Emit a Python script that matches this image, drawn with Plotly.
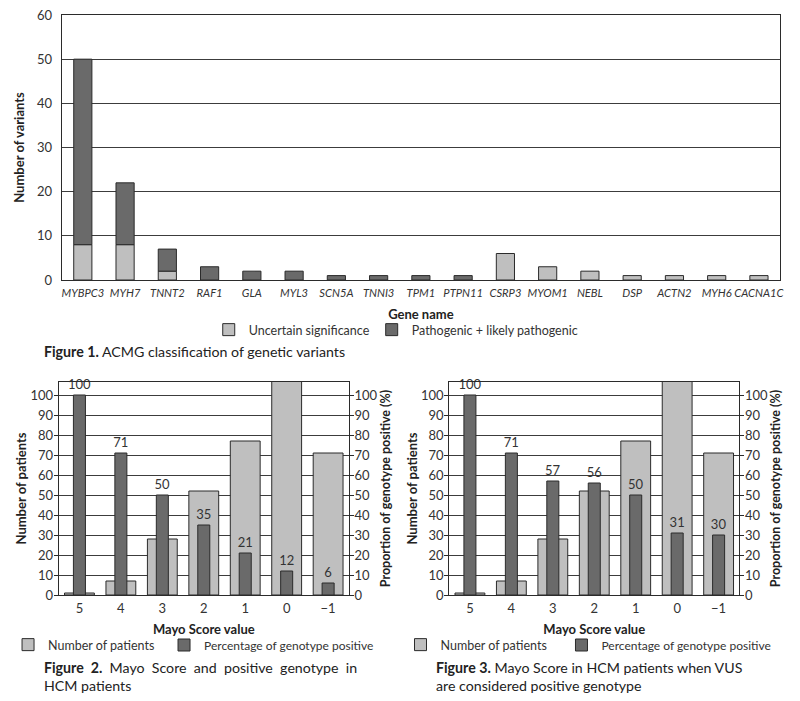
import plotly.graph_objects as go

# ---------------- Data ----------------
genes = ["MYBPC3", "MYH7", "TNNT2", "RAF1", "GLA", "MYL3", "SCN5A", "TNNI3", "TPM1",
         "PTPN11", "CSRP3", "MYOM1", "NEBL", "DSP", "ACTN2", "MYH6", "CACNA1C"]
vus_counts = [8, 8, 2, 0, 0, 0, 0, 0, 0, 0, 6, 3, 2, 1, 1, 1, 1]
path_counts = [42, 14, 5, 3, 2, 2, 1, 1, 1, 1, 0, 0, 0, 0, 0, 0, 0]

mayo_scores = ["5", "4", "3", "2", "1", "0", "\u22121"]
patients_fig2 = [1, 7, 28, 52, 77, 110, 71]
pct_pos_fig2 = [100, 71, 50, 35, 21, 12, 6]
patients_fig3 = [1, 7, 28, 52, 77, 110, 71]
pct_pos_fig3 = [100, 71, 57, 56, 50, 31, 30]

LIGHT = "#bfbfbf"
DARK = "#6a6a6a"
EDGE = "#2b2b2b"
GRID = "#3c3c3c"
FONT = "Lato"
TXT = "#333333"

# page has an 8px body margin: figure covers page pixels 8..792 x 8..693
OFF = 8
W, H = 784, 685


def px_x(p):
    return (p - OFF) / W


def px_y(p):
    return 1 - (p - OFF) / H


def nz(vals):
    return [v if v else None for v in vals]


fig = go.Figure()

# ---------------- Figure 1 ----------------
fig.add_trace(go.Bar(x=genes, y=nz(vus_counts), name="Uncertain significance",
                     marker=dict(color=LIGHT, line=dict(color=EDGE, width=1)),
                     width=0.43, xaxis="x", yaxis="y", legend="legend"))
fig.add_trace(go.Bar(x=genes, y=nz(path_counts), base=vus_counts,
                     name="Pathogenic + likely pathogenic",
                     marker=dict(color=DARK, line=dict(color=EDGE, width=1)),
                     width=0.43, xaxis="x", yaxis="y", legend="legend4"))

# ---------------- Figures 2 & 3 ----------------
def add_mayo(patients, pct, xa, ya, ya2, leg_a, leg_b):
    fig.add_trace(go.Bar(x=mayo_scores, y=patients, name="Number of patients",
                         marker=dict(color=LIGHT, line=dict(color=EDGE, width=1)),
                         width=0.72, xaxis=xa, yaxis=ya, legend=leg_a))
    fig.add_trace(go.Bar(x=mayo_scores, y=pct, name="Percentage of genotype positive",
                         marker=dict(color=DARK, line=dict(color=EDGE, width=1)),
                         width=0.29, xaxis=xa, yaxis=ya2, legend=leg_b,
                         text=[str(v) for v in pct], textposition="outside",
                         constraintext="none",
                         textfont=dict(family=FONT, size=13, color=TXT),
                         cliponaxis=False))


add_mayo(patients_fig2, pct_pos_fig2, "x2", "y2", "y3", "legend2", "legend5")
add_mayo(patients_fig3, pct_pos_fig3, "x3", "y4", "y5", "legend3", "legend6")

tickf = dict(family=FONT, size=13, color=TXT)
titlef = dict(family=FONT, size=13, color="#222222", weight="bold")
titlef_r = dict(family=FONT, size=12.5, color="#222222", weight="bold")

common_x = dict(type="category", showline=True, linecolor=EDGE, linewidth=1, mirror=True,
                ticks="", showgrid=False, automargin=False, tickfont=tickf, tickangle=0,
                ticklabeloverflow="allow")
common_y = dict(showline=True, linecolor=EDGE, linewidth=1, gridcolor=GRID, gridwidth=1,
                automargin=False, tickfont=tickf, zeroline=False,
                ticklabeloverflow="allow")
yticks = dict(range=[0, 106.5], tickvals=list(range(0, 101, 10)), ticks="outside",
              ticklen=4, tickcolor=EDGE)


def ax(*parts, **kw):
    d = {}
    for p in parts:
        d.update(p)
    d.update(kw)
    return d


def leg(xp, yp, size=12.5):
    return dict(orientation="h", x=px_x(xp), y=px_y(yp), xanchor="left",
                yanchor="middle", font=dict(family=FONT, size=size, color=TXT),
                bgcolor="rgba(0,0,0,0)")


fig.update_layout(
    width=W, height=H,
    margin=dict(l=0, r=0, t=0, b=0),
    paper_bgcolor="white", plot_bgcolor="white",
    barmode="overlay",
    showlegend=True,
    font=dict(family=FONT, color=TXT),
    # fig 1
    xaxis=ax(common_x, domain=[px_x(57), px_x(780)], anchor="y",
             range=[-0.5, 16.5], ticklabelstandoff=3,
             tickfont=dict(family=FONT, size=11.2, color=TXT, style="italic"),
             title=dict(text="Gene name", font=titlef, standoff=11)),
    yaxis=ax(common_y, domain=[px_y(280), px_y(15)], anchor="x", range=[0, 60],
             dtick=10, mirror=True, ticks="", ticklabelstandoff=6,
             title=dict(text="Number of variants", font=titlef, standoff=9)),
    # fig 2
    xaxis2=ax(common_x, domain=[px_x(54), px_x(346)], anchor="y2",
              range=[-0.5, 6.5], ticklabelstandoff=1,
              title=dict(text="Mayo Score value", font=titlef, standoff=10)),
    yaxis2=ax(common_y, yticks, domain=[px_y(595), px_y(382)], anchor="x2",
              ticklabelstandoff=-2,
              title=dict(text="Number of patients", font=titlef, standoff=0)),
    yaxis3=ax(common_y, yticks, overlaying="y2", side="right", anchor="x2",
              showgrid=False, ticklabelstandoff=-2,
              title=dict(text="Proportion of genotype positive (%)", font=titlef_r,
                         standoff=0)),
    # fig 3
    xaxis3=ax(common_x, domain=[px_x(447), px_x(739)], anchor="y4",
              range=[-0.5, 6.5], ticklabelstandoff=1,
              title=dict(text="Mayo Score value", font=titlef, standoff=10)),
    yaxis4=ax(common_y, yticks, domain=[px_y(595), px_y(382)], anchor="x3",
              ticklabelstandoff=-2,
              title=dict(text="Number of patients", font=titlef, standoff=0)),
    yaxis5=ax(common_y, yticks, overlaying="y4", side="right", anchor="x3",
              showgrid=False, ticklabelstandoff=-2,
              title=dict(text="Proportion of genotype positive (%)", font=titlef_r,
                         standoff=0)),
    legend=leg(205, 330),
    legend4=leg(369, 330),
    legend2=leg(3, 645),
    legend5=leg(160, 645, 12),
    legend3=leg(398, 645),
    legend6=leg(560, 645, 12),
)

capf = dict(family=FONT, size=14.2, color="#222222")
sp = "&nbsp;&nbsp;"
fig.add_annotation(text="<b>Figure 1.</b> ACMG classification of genetic variants",
                   x=px_x(37), y=px_y(351), xref="paper", yref="paper",
                   xanchor="left", yanchor="middle", showarrow=False, font=capf, align="left")
fig.add_annotation(text=("<b>Figure" + sp + "2.</b>" + sp + "Mayo" + sp + "Score" + sp + "and"
                         + sp + "positive" + sp + "genotype" + sp + "in<br>HCM patients"),
                   x=px_x(37), y=px_y(676), xref="paper", yref="paper",
                   xanchor="left", yanchor="middle", showarrow=False, font=capf, align="left")
fig.add_annotation(text="<b>Figure 3.</b> Mayo Score in HCM patients when VUS<br>are considered positive genotype",
                   x=px_x(432), y=px_y(676), xref="paper", yref="paper",
                   xanchor="left", yanchor="middle", showarrow=False, font=capf, align="left")

fig.write_html("out.html")
